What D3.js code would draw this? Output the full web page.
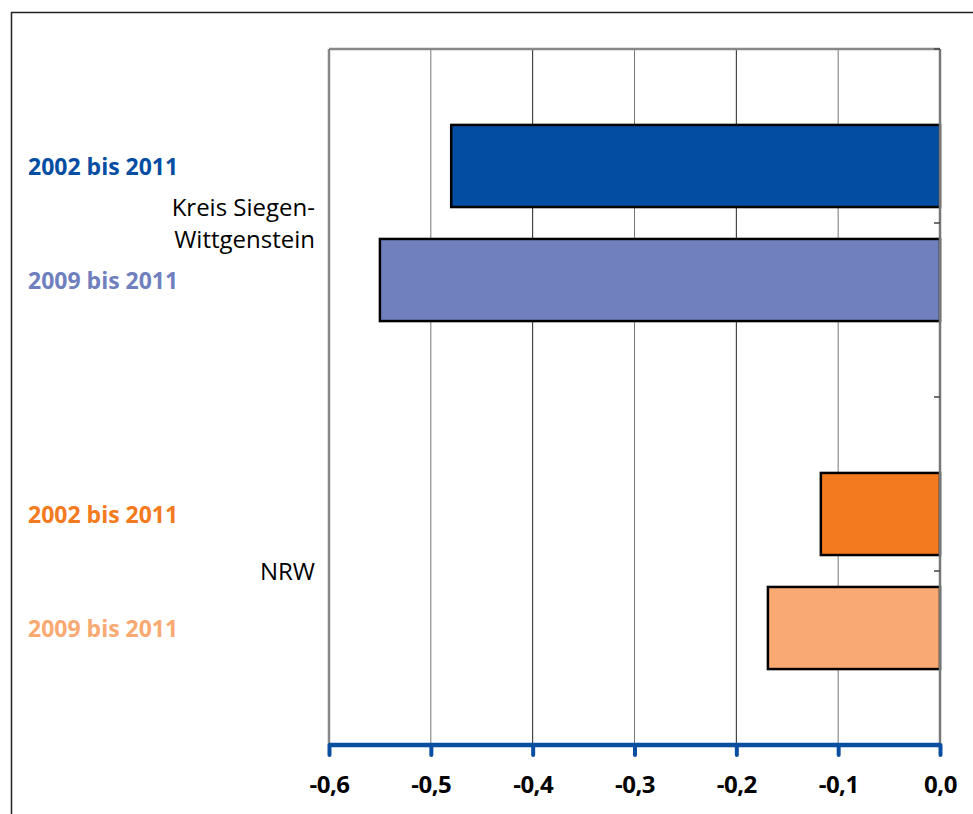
<!DOCTYPE html>
<html lang="de">
<head>
    <meta charset="UTF-8">
    <script src="https://cdn.jsdelivr.net/npm/d3@7"></script>
    <style>
        body{ margin:0; background:#fff; }
        text{ font-family:"Open Sans","Noto Sans",sans-serif; }
    </style>
    <title>barChart</title>
</head>
<body>
    <svg height="814" width="973"></svg>
    <script>
        // data
        var categories = ["Kreis Siegen-Wittgenstein", "NRW"];
        var categoryLines = [["Kreis Siegen-", "Wittgenstein"], ["NRW"]];
        var series = ["2002 bis 2011", "2009 bis 2011"];
        var kreisValues = [-0.48, -0.55];
        var nrwValues = [-0.117, -0.169];
        var xTicks = [-0.6, -0.5, -0.4, -0.3, -0.2, -0.1, 0.0];
        var barColors = [["#034ea2", "#7080bf"], ["#f47a20", "#f9aa72"]];

        var svg = d3.select("svg");
        var plotLeft = 329, plotRight = 940, plotTop = 49, plotBottom = 745;

        // outer frame
        svg.append("rect")
            .attr("x", 11.5).attr("y", 12.5)
            .attr("width", 1000).attr("height", 900)
            .attr("fill", "none").attr("stroke", "#222").attr("stroke-width", 1.5);

        var x = d3.scaleLinear().domain([-0.6, 0]).range([plotLeft, plotRight]);
        var yCat = d3.scaleBand().domain(categories).range([plotTop, plotBottom]);
        var ySer = d3.scaleBand().domain(series).range([0, yCat.bandwidth()])
            .paddingInner(0.28).paddingOuter(0.666);

        var rows = [];
        categories.forEach(function(c, i){
            var vals = i === 0 ? kreisValues : nrwValues;
            series.forEach(function(s, j){
                rows.push({cat: c, ser: s, value: vals[j], color: barColors[i][j]});
            });
        });

        // gridlines
        svg.selectAll(".grid")
            .data(xTicks.slice(1, -1))
            .enter().append("line")
            .attr("x1", function(d){ return x(d); })
            .attr("x2", function(d){ return x(d); })
            .attr("y1", plotTop).attr("y2", plotBottom)
            .attr("stroke", function(d, i){ return i % 2 ? "#222" : "#777"; })
            .attr("stroke-width", 1);

        // plot border top / left
        svg.append("line").attr("x1", plotLeft).attr("x2", plotRight).attr("y1", plotTop).attr("y2", plotTop)
            .attr("stroke", "#888").attr("stroke-width", 2.5);
        svg.append("line").attr("x1", plotLeft).attr("x2", plotLeft).attr("y1", plotTop).attr("y2", plotBottom)
            .attr("stroke", "#888").attr("stroke-width", 2.5);

        // bars
        svg.selectAll(".bar")
            .data(rows)
            .enter().append("rect")
            .attr("class", "bar")
            .attr("x", function(d){ return x(d.value); })
            .attr("y", function(d){ return yCat(d.cat) + ySer(d.ser); })
            .attr("width", function(d){ return x(0) - x(d.value); })
            .attr("height", ySer.bandwidth())
            .attr("fill", function(d){ return d.color; })
            .attr("stroke", "#000").attr("stroke-width", 2.5);

        // right axis (zero line) with inward ticks
        svg.append("line").attr("x1", plotRight).attr("x2", plotRight).attr("y1", plotTop).attr("y2", plotBottom)
            .attr("stroke", "#777").attr("stroke-width", 2.5);
        var yTickPos = d3.range(0, categories.length * 2 + 1).map(function(k){
            return plotTop + k * yCat.bandwidth() / 2;
        });
        svg.selectAll(".ytick")
            .data(yTickPos)
            .enter().append("line")
            .attr("x1", plotRight - 6).attr("x2", plotRight)
            .attr("y1", function(d){ return d; }).attr("y2", function(d){ return d; })
            .attr("stroke", "#444").attr("stroke-width", 1.5);

        // bottom axis
        var xAxis = svg.append("g")
            .attr("transform", "translate(0," + plotBottom + ")")
            .call(d3.axisBottom(x).tickValues(xTicks).tickSize(10).tickPadding(21)
                .tickFormat(function(d){ return d3.format(".1f")(d).replace(".", ",").replace("−", "-"); }));
        xAxis.select(".domain").attr("stroke", "#0a4ea2").attr("stroke-width", 4.5).attr("d", "M" + plotLeft + ",0H" + plotRight);
        xAxis.selectAll(".tick line").attr("stroke", "#0a4ea2").attr("stroke-width", 4).attr("stroke-linecap", "round");
        xAxis.selectAll(".tick text")
            .attr("fill", "#000")
            .attr("font-size", "24px")
            .attr("font-weight", "bold")
            .attr("letter-spacing", "-0.5px")
            .attr("font-family", "'Open Sans', sans-serif");

        // series labels at bar centers
        svg.selectAll(".serlabel")
            .data(rows)
            .enter().append("text")
            .attr("x", 28)
            .attr("y", function(d){ return yCat(d.cat) + ySer(d.ser) + ySer.bandwidth() / 2; })
            .attr("dy", "0.38em")
            .attr("font-size", "23px")
            .attr("font-weight", "bold")
            .attr("fill", function(d){ return d.color; })
            .text(function(d){ return d.ser; });

        // category labels
        categories.forEach(function(c, i){
            var lines = categoryLines[i];
            var cy = yCat(c) + yCat.bandwidth() / 2;
            var lh = 32;
            lines.forEach(function(t, k){
                svg.append("text")
                    .attr("x", 315)
                    .attr("y", cy + (k - (lines.length - 1) / 2) * lh)
                    .attr("dy", "0.38em")
                    .attr("text-anchor", "end")
                    .attr("font-size", "24px")
                    .attr("fill", "#000")
                    .text(t);
            });
        });
    </script>
</body>
</html>
